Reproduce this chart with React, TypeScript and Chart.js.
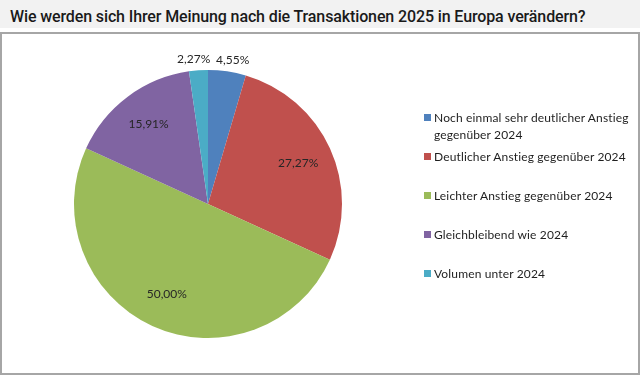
import React, { useEffect, useRef } from "react";
import { Chart, registerables } from "chart.js";

Chart.register(...registerables);

const chartTitle = "Wie werden sich Ihrer Meinung nach die Transaktionen 2025 in Europa verändern?";
const categories: string[][] = [
  ["Noch einmal sehr deutlicher Anstieg", "gegenüber 2024"],
  ["Deutlicher Anstieg gegenüber 2024"],
  ["Leichter Anstieg gegenüber 2024"],
  ["Gleichbleibend wie 2024"],
  ["Volumen unter 2024"],
];
const values = [4.55, 27.27, 50.0, 15.91, 2.27];
const colors = ["#4f81bd", "#c0504d", "#9bbb59", "#8064a2", "#4bacc6"];

const FONT = "Lato, 'DejaVu Sans', sans-serif";

const labelPlugin = {
  id: "sliceLabels",
  afterDatasetsDraw(chart: any) {
    const ctx = chart.ctx;
    const meta = chart.getDatasetMeta(0);
    const data = chart.data.datasets[0].data as number[];
    ctx.save();
    ctx.font = `12px ${FONT}`;
    ctx.fillStyle = "#262626";
    ctx.textAlign = "center";
    ctx.textBaseline = "middle";
    meta.data.forEach((arc: any, i: number) => {
      const p = arc.getProps(["x", "y", "startAngle", "endAngle", "outerRadius"], true);
      const mid = (p.startAngle + p.endAngle) / 2;
      const v = data[i];
      const text = v.toFixed(2).replace(".", ",") + "%";
      let x: number;
      let y: number;
      if (v < 5) {
        const r = p.outerRadius + 11;
        const w = ctx.measureText(text).width;
        x = p.x + Math.cos(mid) * r + Math.sign(Math.cos(mid)) * w * 0.12;
        y = p.y + Math.sin(mid) * r;
      } else {
        const r = p.outerRadius * 0.74;
        x = p.x + Math.cos(mid) * r;
        y = p.y + Math.sin(mid) * r;
      }
      ctx.fillText(text, x, y);
    });
    ctx.restore();
  },
};

export default function App() {
  const ref = useRef<HTMLCanvasElement | null>(null);
  useEffect(() => {
    if (!ref.current) return;
    const chart = new Chart(ref.current, {
      type: "pie",
      data: {
        labels: categories.map((c) => c.join(" ")),
        datasets: [
          {
            data: values,
            backgroundColor: colors,
            borderWidth: 0,
          },
        ],
      },
      options: {
        responsive: false,
        animation: false,
        layout: { padding: { left: 74, right: 298, top: 70, bottom: 37 } },
        plugins: {
          legend: { display: false },
          tooltip: { enabled: false },
        },
      },
      plugins: [labelPlugin],
    });
    return () => chart.destroy();
  }, []);

  return (
    <div style={{ position: "fixed", left: 0, top: 0, width: 640, height: 375, background: "#fff", overflow: "hidden" }}>
      <div
        style={{
          position: "absolute",
          left: 0,
          top: 0,
          width: 640,
          height: 28,
          background: "#f2f2f2",
        }}
      >
        <div
          style={{
            position: "absolute",
            left: 10,
            top: 3,
            fontFamily: "Roboto, sans-serif",
            fontWeight: 500,
            fontSize: 16,
            letterSpacing: "-0.12px",
            lineHeight: "28px",
            color: "#1a1a1a",
            whiteSpace: "nowrap",
          }}
        >
          {chartTitle}
        </div>
      </div>
      <div
        style={{
          position: "absolute",
          left: 0,
          top: 32,
          width: 640,
          height: 343,
          boxSizing: "border-box",
          border: "2px solid #a6a6a6",
        }}
      />
      <canvas ref={ref} width={640} height={375} style={{ position: "absolute", left: 0, top: 0 }} />
      <div
        style={{
          position: "absolute",
          left: 424,
          top: 109,
          width: 210,
          fontFamily: FONT,
          fontSize: 12,
          letterSpacing: "0.15px",
          color: "#1e1e1e",
        }}
      >
        {categories.map((lines, i) => (
          <div key={i} style={{ position: "relative", height: 39 }}>
            <div
              style={{
                position: "absolute",
                left: 0,
                top: 5,
                width: 7,
                height: 7,
                background: colors[i],
              }}
            />
            <div style={{ position: "absolute", left: 10, top: 0, lineHeight: "17px", whiteSpace: "nowrap" }}>
              {lines.map((l, j) => (
                <div key={j}>{l}</div>
              ))}
            </div>
          </div>
        ))}
      </div>
    </div>
  );
}
